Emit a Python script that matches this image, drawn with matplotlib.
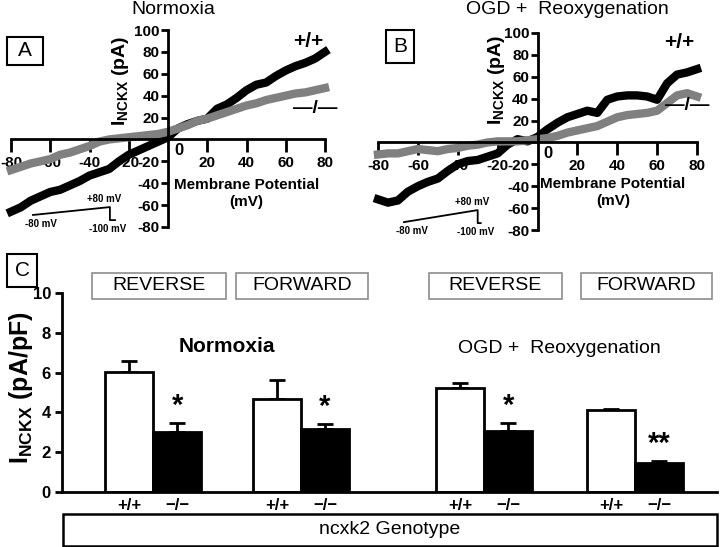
import matplotlib
matplotlib.use("Agg")
import matplotlib.pyplot as plt
from matplotlib.patches import Rectangle

plt.rcParams["font.family"] = ["Liberation Sans", "DejaVu Sans"]
plt.rcParams["mathtext.fontset"] = "custom"
plt.rcParams["mathtext.rm"] = "Liberation Sans"
plt.rcParams["mathtext.bf"] = "Liberation Sans:bold"

# ---- I-V traces (every 5 mV) ----
volts = [-80, -75, -70, -65, -60, -55, -50, -45, -40, -35, -30, -25, -20, -15, -10, -5,
         0, 5, 10, 15, 20, 25, 30, 35, 40, 45, 50, 55, 60, 65, 70, 75, 80]

norm_wt = [-66, -62, -56, -52, -48, -46, -42, -38, -33, -30, -27, -20, -14, -10, -6, -2,
           2, 10, 14, 17, 19, 28, 32, 38, 45, 50, 52, 58, 63, 67, 70, 74, 80]
norm_ko = [-28, -25, -22, -20, -18, -14, -12, -9, -6, -2, 0, 1, 2, 3, 4, 5,
           7, 10, 13, 17, 19, 22, 25, 28, 31, 33, 36, 38, 40, 42, 43, 45, 47]

ogd_wt = [-52, -55, -53, -45, -40, -36, -33, -26, -20, -17, -16, -13, -10, -2, 3, 1,
          5, 12, 18, 23, 26, 29, 27, 39, 42, 43, 43, 42, 39, 54, 62, 64, 67]
ogd_ko = [-11, -10, -10, -8, -6, -7, -8, -6, -5, -3, -2, 0, 1, 1, 1, 2,
          3, 4, 6, 9, 11, 13, 15, 19, 23, 25, 26, 27, 29, 36, 43, 45, 42]

# ramp protocol sketch (mV-axis / pA-axis units of each panel)
ramp_a_x = [-68.8, -29.6, -29.6, -27.0]
ramp_a_y = [-69.0, -61.8, -73.7, -73.7]
ramp_b_x = [-67.0, -30.0, -30.0, -28.5]
ramp_b_y = [-72.8, -61.8, -73.7, -73.7]

# ---- bar chart (panel C) ----
genotypes = ["+/+", "\u2212/\u2212"]
group_names = ["Normoxia REVERSE", "Normoxia FORWARD", "OGD REVERSE", "OGD FORWARD"]
wt_mean = [6.05, 4.65, 5.25, 4.10]
wt_sem = [0.55, 1.00, 0.25, 0.05]
ko_mean = [3.02, 3.15, 3.05, 1.45]
ko_sem = [0.45, 0.25, 0.40, 0.12]
stars = ["*", "*", "*", "**"]
box_labels = ["REVERSE", "FORWARD", "REVERSE", "FORWARD"]

fig = plt.figure(figsize=(7.2, 5.47), dpi=100)
W, H = 720.0, 547.0


def fx(px):
    return px / W


def fy(py):
    return 1 - py / H


def iv_panel(rect, wt, ko, ramp_x, ramp_y, lab_coords, mp_coords, ppos, mpos):
    ax = fig.add_axes(rect)
    ax.set_xlim(-80, 80)
    ax.set_ylim(-80, 100)
    ax.plot(volts, wt, color="black", lw=6, clip_on=False)
    ax.plot(volts, ko, color="#808080", lw=6, clip_on=False)
    for s in ["left", "bottom"]:
        ax.spines[s].set_position("zero")
        ax.spines[s].set_linewidth(2)
    ax.spines["top"].set_visible(False)
    ax.spines["right"].set_visible(False)
    ax.set_xticks([-80, -60, -40, -20, 20, 40, 60, 80])
    ax.set_xticklabels(["-80", "-60", "-40", "-20", "20", "40", "60", "80"],
                       fontsize=11, fontweight="bold")
    ax.set_yticks([-80, -60, -40, -20, 20, 40, 60, 80, 100])
    ax.set_yticklabels(["-80", "-60", "-40", "-20", "20", "40", "60", "80", "100"],
                       fontsize=11, fontweight="bold")
    ax.tick_params(axis="x", direction="out", length=9, width=2, pad=3)
    ax.tick_params(axis="y", direction="out", length=5, width=2, pad=1)
    ax.patch.set_visible(False)
    ax.text(3, -3, "0", fontsize=12, fontweight="bold", ha="left", va="top")
    ax.text(lab_coords[0], lab_coords[1], r"I$_{\mathbf{NCKX}}$ (pA)", transform=ax.transAxes,
            rotation=90, fontsize=14, fontweight="bold", ha="center", va="center")
    ax.text(mp_coords[0], mp_coords[1], "Membrane Potential\n(mV)", transform=ax.transAxes,
            fontsize=11, fontweight="bold", ha="center", va="center", linespacing=1.3)
    ax.text(ppos[0], ppos[1], "+/+", transform=ax.transAxes, fontsize=15, fontweight="bold",
            ha="center", va="center")
    ax.text(mpos[0], mpos[1], "\u2014/\u2014", transform=ax.transAxes, fontsize=14,
            fontweight="bold", ha="center", va="center")
    ax.plot(ramp_x, ramp_y, color="black", lw=1.3)
    ax.text(ramp_x[1] - 3, ramp_y[1] + 7, "+80 mV", fontsize=7, fontweight="bold",
            ha="center", va="center")
    ax.text(ramp_x[0] + 4, ramp_y[0] - 8, "-80 mV", fontsize=7, fontweight="bold",
            ha="center", va="center")
    ax.text(ramp_x[2] - 1, ramp_y[2] - 8, "-100 mV", fontsize=7, fontweight="bold",
            ha="center", va="center")
    return ax


ax_a = iv_panel([fx(11), fy(227), 314 / W, 197 / H], norm_wt, norm_ko,
                ramp_a_x, ramp_a_y, (0.35, 0.74), (0.75, 0.17), (0.946, 0.94), (0.968, 0.60))
ax_b = iv_panel([fx(378), fy(230), 319 / W, 197 / H], ogd_wt, ogd_ko,
                ramp_b_x, ramp_b_y, (0.373, 0.76), (0.737, 0.19), (0.944, 0.95), (0.97, 0.63))

fig.text(fx(173), fy(10), "Normoxia", fontsize=14, ha="center", va="center")
fig.text(fx(567), fy(9), "OGD +  Reoxygenation", fontsize=14, ha="center", va="center")


def letter_box(x0, y0, x1, y1, letter):
    fig.patches.append(Rectangle((fx(x0), fy(y1)), fx(x1) - fx(x0), fy(y0) - fy(y1),
                                 transform=fig.transFigure, fill=False, ec="black", lw=1.5))
    fig.text(fx((x0 + x1) / 2), fy((y0 + y1) / 2), letter, fontsize=15,
             ha="center", va="center")


letter_box(7, 37, 43, 65, "A")
letter_box(386, 30, 414, 63, "B")
letter_box(7, 254, 37, 287, "C")

# ---- panel C ----
axc = fig.add_axes([fx(62), fy(492), 655 / W, 199 / H])
group_x = [0.0, 3.08, 6.9, 10.04]
wt_x = [g - 0.5 for g in group_x]
ko_x = [g + 0.5 for g in group_x]
axc.bar(wt_x, wt_mean, width=1.0, color="white", edgecolor="black", linewidth=2, zorder=2)
axc.bar(ko_x, ko_mean, width=1.0, color="black", edgecolor="black", linewidth=2, zorder=2)
axc.errorbar(wt_x, wt_mean, yerr=[[0] * 4, wt_sem], fmt="none", ecolor="black",
             elinewidth=2, capsize=6, capthick=2, zorder=1)
axc.errorbar(ko_x, ko_mean, yerr=[[0] * 4, ko_sem], fmt="none", ecolor="black",
             elinewidth=2, capsize=6, capthick=2, zorder=1)
for x, m, s, st in zip(ko_x, ko_mean, ko_sem, stars):
    axc.text(x, m + s + 0.15, st, fontsize=21, fontweight="bold", ha="center", va="bottom")
axc.set_xlim(-1.9, 11.75)
axc.set_ylim(0, 10)
axc.set_yticks([0, 2, 4, 6, 8, 10])
axc.set_yticklabels(["0", "2", "4", "6", "8", "10"], fontsize=12, fontweight="bold")
axc.set_xticks(wt_x + ko_x)
axc.set_xticklabels([genotypes[0]] * 4 + [genotypes[1]] * 4, fontsize=12, fontweight="bold")
axc.tick_params(axis="x", length=0, pad=4)
axc.tick_params(axis="y", direction="out", length=5, width=2, pad=3)
axc.spines["top"].set_visible(False)
axc.spines["right"].set_visible(False)
axc.spines["left"].set_linewidth(2)
axc.spines["bottom"].set_linewidth(2)
axc.patch.set_visible(False)
axc.text((group_x[0] + group_x[1]) / 2, 7.3, "Normoxia", fontsize=15, fontweight="bold",
         ha="center", va="center")
axc.text((group_x[2] + group_x[3]) / 2, 7.2, "OGD +  Reoxygenation", fontsize=14,
         ha="center", va="center")

fig.text(fx(21), fy(388), r"I$_{\mathbf{NCKX}}$ (pA/pF)", rotation=90, fontsize=18,
         fontweight="bold", ha="center", va="center")

# REVERSE / FORWARD boxes
box_x = [(92, 226), (236, 368), (429, 562), (581, 712)]
for (x0, x1), lab in zip(box_x, box_labels):
    fig.patches.append(Rectangle((fx(x0), fy(299)), fx(x1) - fx(x0), fy(273) - fy(299),
                                 transform=fig.transFigure, fill=False, ec="#8c8c8c", lw=1.2))
    fig.text(fx((x0 + x1) / 2), fy(286), lab, fontsize=14, ha="center", va="center")

# genotype box
fig.patches.append(Rectangle((fx(63), fy(546)), fx(717) - fx(63), fy(514) - fy(546),
                             transform=fig.transFigure, fill=False, ec="black", lw=1.8))
fig.text(fx(390), fy(530), "ncxk2 Genotype", fontsize=14, ha="center", va="center")

fig.savefig("out.png", dpi=100)
